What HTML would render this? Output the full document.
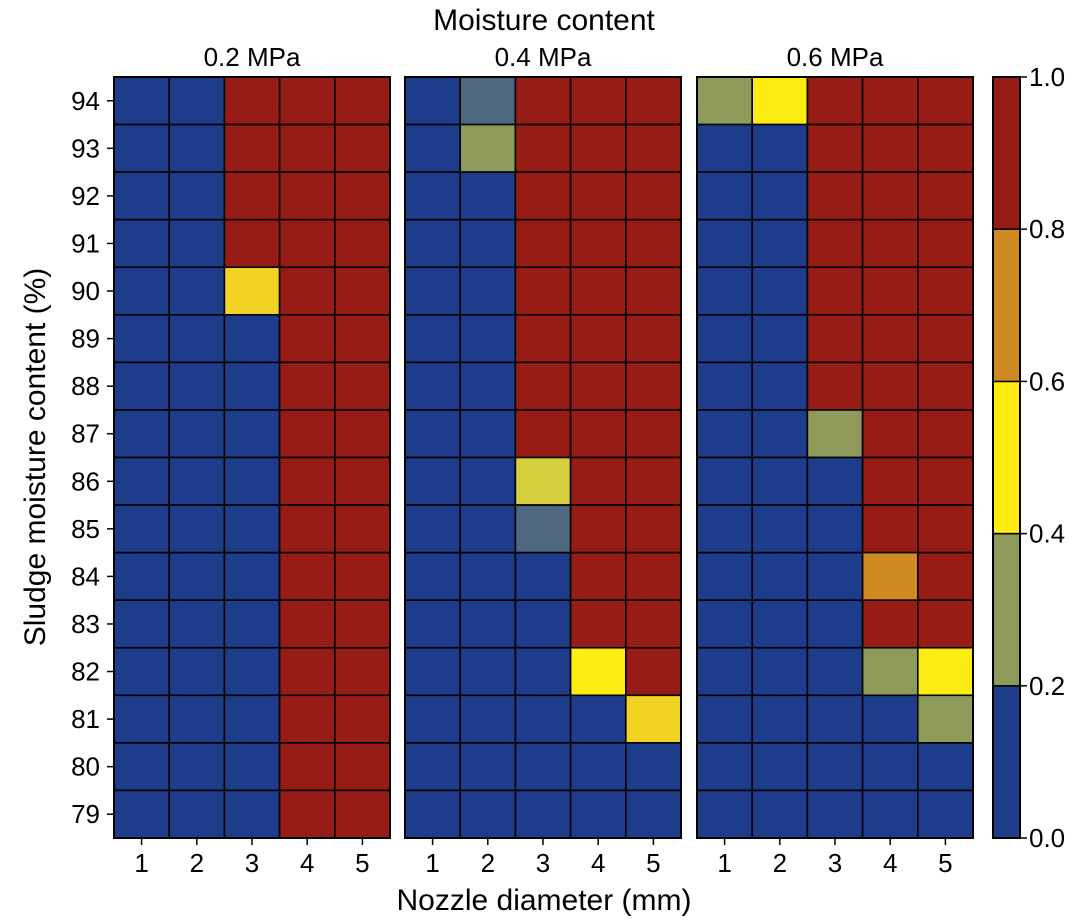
<!DOCTYPE html>
<html><head><meta charset="utf-8"><style>
html,body{margin:0;padding:0;background:#fff;}
svg{display:block;font-family:"Liberation Sans",Arial,sans-serif;}
</style></head><body>
<svg id="chart" width="1080" height="920" viewBox="0 0 1080 920" xmlns="http://www.w3.org/2000/svg"></svg>
<script>
const rowLabels=[94,93,92,91,90,89,88,87,86,85,84,83,82,81,80,79];
const colLabels=[1,2,3,4,5];
const panelTitles=["0.2 MPa","0.4 MPa","0.6 MPa"];
const cbTicks=[0.0,0.2,0.4,0.6,0.8,1.0];
// values per panel, rows 94..79, cols 1..5
const p1=[
[0.1,0.1,0.9,0.9,0.9],[0.1,0.1,0.9,0.9,0.9],[0.1,0.1,0.9,0.9,0.9],[0.1,0.1,0.9,0.9,0.9],
[0.1,0.1,0.52,0.9,0.9],[0.1,0.1,0.1,0.9,0.9],[0.1,0.1,0.1,0.9,0.9],[0.1,0.1,0.1,0.9,0.9],
[0.1,0.1,0.1,0.9,0.9],[0.1,0.1,0.1,0.9,0.9],[0.1,0.1,0.1,0.9,0.9],[0.1,0.1,0.1,0.9,0.9],
[0.1,0.1,0.1,0.9,0.9],[0.1,0.1,0.1,0.9,0.9],[0.1,0.1,0.1,0.9,0.9],[0.1,0.1,0.1,0.9,0.9]];
const p2=[
[0.1,0.18,0.9,0.9,0.9],[0.1,0.3,0.9,0.9,0.9],[0.1,0.1,0.9,0.9,0.9],[0.1,0.1,0.9,0.9,0.9],
[0.1,0.1,0.9,0.9,0.9],[0.1,0.1,0.9,0.9,0.9],[0.1,0.1,0.9,0.9,0.9],[0.1,0.1,0.9,0.9,0.9],
[0.1,0.1,0.45,0.9,0.9],[0.1,0.1,0.18,0.9,0.9],[0.1,0.1,0.1,0.9,0.9],[0.1,0.1,0.1,0.9,0.9],
[0.1,0.1,0.1,0.5,0.9],[0.1,0.1,0.1,0.1,0.52],[0.1,0.1,0.1,0.1,0.1],[0.1,0.1,0.1,0.1,0.1]];
const p3=[
[0.3,0.5,0.9,0.9,0.9],[0.1,0.1,0.9,0.9,0.9],[0.1,0.1,0.9,0.9,0.9],[0.1,0.1,0.9,0.9,0.9],
[0.1,0.1,0.9,0.9,0.9],[0.1,0.1,0.9,0.9,0.9],[0.1,0.1,0.9,0.9,0.9],[0.1,0.1,0.3,0.9,0.9],
[0.1,0.1,0.1,0.9,0.9],[0.1,0.1,0.1,0.9,0.9],[0.1,0.1,0.1,0.7,0.9],[0.1,0.1,0.1,0.9,0.9],
[0.1,0.1,0.1,0.3,0.5],[0.1,0.1,0.1,0.1,0.3],[0.1,0.1,0.1,0.1,0.1],[0.1,0.1,0.1,0.1,0.1]];
const panels=[p1,p2,p3];

const NS="http://www.w3.org/2000/svg";
const svg=document.getElementById('chart');
function mk(t,a,txt){const e=document.createElementNS(NS,t);for(const k in a)e.setAttribute(k,a[k]);if(txt!==undefined)e.textContent=txt;svg.appendChild(e);return e;}
function color(v){
  if(v<0.15)return "#1d3c8a";
  if(v<0.2)return "#4e6880";
  if(v<0.4)return "#8e9a5a";
  if(v<0.6)return (v<0.5?"#d6d03e":(v>0.51?"#f2d223":"#fcec14"));
  if(v<0.8)return "#d08a22";
  return "#981c16";
}
function cbColor(v){if(v<0.2)return "#1d3c8a";if(v<0.4)return "#8e9a5a";if(v<0.6)return "#fcec14";if(v<0.8)return "#d08a22";return "#981c16";}
const panelX=[114,405,697], pw=276, topY=77, bottomY=838;
const rh=(bottomY-topY)/rowLabels.length, cw=pw/colLabels.length;
function xPos(p,c){return panelX[p]+c*cw;}
function yPos(r){return topY+r*rh;}

let t=mk('text',{x:544,y:30,'font-size':30,'text-anchor':'middle',fill:'#000'},'Moisture content');



panels.forEach((data,p)=>{
  data.forEach((row,r)=>row.forEach((v,c)=>{
    const e=mk('rect',{x:xPos(p,c),y:yPos(r),width:cw,height:rh,fill:color(v),stroke:'#000','stroke-width':1.6});
    
    
  }));
  const fr=mk('rect',{x:panelX[p],y:topY,width:pw,height:bottomY-topY,fill:'none',stroke:'#000','stroke-width':2});
  
  
  const pt=mk('text',{x:panelX[p]+pw/2,y:66,'font-size':26,'text-anchor':'middle'},panelTitles[p]);
  
  
  colLabels.forEach((c,i)=>{
    const x=xPos(p,i)+cw/2;
    const tk=mk('line',{x1:x,y1:bottomY,x2:x,y2:bottomY+7,stroke:'#000','stroke-width':1.5});
    
    
    const tl=mk('text',{x:x,y:872,'font-size':26,'text-anchor':'middle'},String(c));
    
    
  });
});
rowLabels.forEach((l,r)=>{
  const y=yPos(r)+rh/2;
  const tk=mk('line',{x1:107,y1:y,x2:114,y2:y,stroke:'#000','stroke-width':1.5});
  
  
  const tl=mk('text',{x:100,y:y+9,'font-size':26,'text-anchor':'end'},String(l));
  
  
});
let xl=mk('text',{x:544,y:910,'font-size':30,'text-anchor':'middle'},'Nozzle diameter (mm)');


let yl=mk('text',{x:0,y:0,'font-size':30,'text-anchor':'middle',transform:'translate(45,457) rotate(-90)'},'Sludge moisture content (%)');



// colorbar
const cbx=993,cbw=27;
function cbY(v){return bottomY-(bottomY-topY)*v;}
for(let i=0;i<cbTicks.length-1;i++){
  const a=cbTicks[i],b=cbTicks[i+1];
  const e=mk('rect',{x:cbx,y:cbY(b),width:cbw,height:cbY(a)-cbY(b),fill:cbColor((a+b)/2),stroke:'#000','stroke-width':1.5});
  
  
}
const cf=mk('rect',{x:cbx,y:topY,width:cbw,height:bottomY-topY,fill:'none',stroke:'#000','stroke-width':2});


cbTicks.forEach(v=>{
  const y=cbY(v);
  const tk=mk('line',{x1:cbx+cbw,y1:y,x2:cbx+cbw+7,y2:y,stroke:'#000','stroke-width':1.5});
  
  
  const tl=mk('text',{x:cbx+cbw+9,y:y+9,'font-size':26},v.toFixed(1));
  
  
});
</script>
</body></html>
